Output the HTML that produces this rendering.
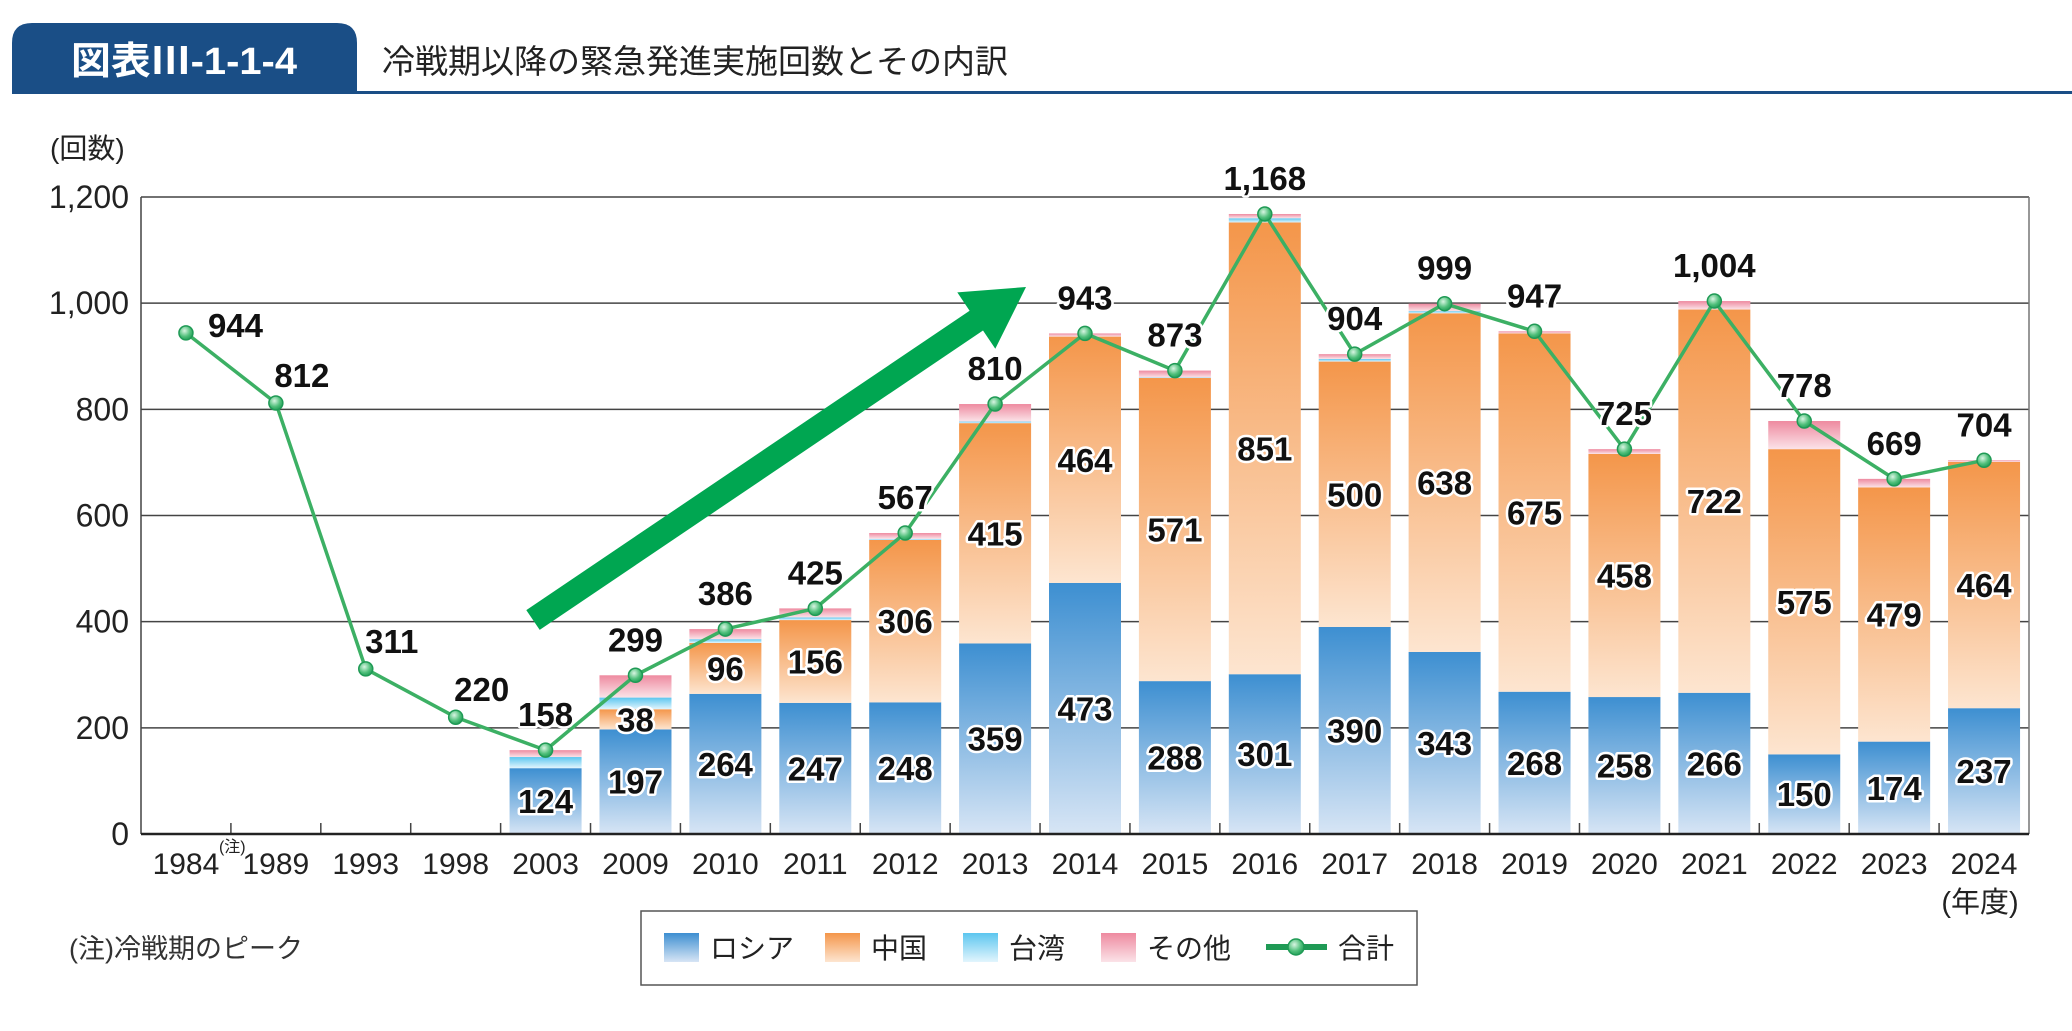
<!DOCTYPE html>
<html><head><meta charset="utf-8">
<style>
html,body{margin:0;padding:0;background:#fff;}
body{width:2072px;height:1026px;overflow:hidden;position:relative;font-family:"Liberation Sans","Noto Sans CJK JP",sans-serif;}
svg text{font-family:"Liberation Sans","Noto Sans CJK JP",sans-serif;}
</style></head><body>
<svg id="chart" width="2072" height="1026" viewBox="0 0 2072 1026" xmlns="http://www.w3.org/2000/svg">
<defs>
<linearGradient id="gR" x1="0" y1="0" x2="0" y2="1"><stop offset="0" stop-color="#3d8fd1"/><stop offset="1" stop-color="#d7e5f5"/></linearGradient>
<linearGradient id="gC" x1="0" y1="0" x2="0" y2="1"><stop offset="0" stop-color="#f4964a"/><stop offset="1" stop-color="#fde5d0"/></linearGradient>
<linearGradient id="gT" x1="0" y1="0" x2="0" y2="1"><stop offset="0" stop-color="#5cc6ef"/><stop offset="1" stop-color="#e2f5fd"/></linearGradient>
<linearGradient id="gO" x1="0" y1="0" x2="0" y2="1"><stop offset="0" stop-color="#ee8aa0"/><stop offset="1" stop-color="#fbe3e8"/></linearGradient>
<radialGradient id="gM" cx="0.4" cy="0.35" r="0.7"><stop offset="0" stop-color="#d8f5e2"/><stop offset="0.6" stop-color="#4fbf7a"/><stop offset="1" stop-color="#1f9a55"/></radialGradient>
</defs>
<path d="M12,93 L12,43 Q12,23 32,23 L337,23 Q357,23 357,43 L357,93 Z" fill="#1a4e86"/>
<rect x="12" y="91" width="2060" height="3" fill="#1a4e86"/>
<text x="184" y="74" text-anchor="middle" font-size="38" font-weight="bold" fill="#fff" textLength="226" lengthAdjust="spacingAndGlyphs">図表Ⅲ-1-1-4</text>
<text x="382" y="73" font-size="33" fill="#222">冷戦期以降の緊急発進実施回数とその内訳</text>
<text x="50" y="158" font-size="28" fill="#222">(回数)</text>
<g id="grid"></g><g id="bars"></g><g id="axes"></g>
<polygon points="539.7,629.9 526.3,610.1 969.6,310.7 957.3,292.4 1026,287 995.3,348.8 983,330.5" fill="#00a651"/>
<g id="line"></g><g id="labels"></g>
<text x="1980" y="912" text-anchor="middle" font-size="29" fill="#222">(年度)</text>
<text x="69" y="958" font-size="27" fill="#333">(注)冷戦期のピーク</text>
<g>
<rect x="641" y="911" width="776" height="74" fill="#fff" stroke="#555" stroke-width="1.5"/>
<rect x="664" y="933" width="35" height="29" fill="url(#gR)"/>
<text x="710" y="958" font-size="28" fill="#222">ロシア</text>
<rect x="825" y="933" width="35" height="29" fill="url(#gC)"/>
<text x="871" y="958" font-size="28" fill="#222">中国</text>
<rect x="963" y="933" width="35" height="29" fill="url(#gT)"/>
<text x="1009" y="958" font-size="28" fill="#222">台湾</text>
<rect x="1101" y="933" width="35" height="29" fill="url(#gO)"/>
<text x="1147" y="958" font-size="28" fill="#222">その他</text>
<line x1="1266" y1="947" x2="1327" y2="947" stroke="#1f9a55" stroke-width="6"/>
<circle cx="1296" cy="947" r="8" fill="url(#gM)" stroke="#1f9a55" stroke-width="1.5"/>
<text x="1338" y="958" font-size="28" fill="#222">合計</text>
</g>
</svg>
<script>
const years = ["1984","1989","1993","1998","2003","2009","2010","2011","2012","2013","2014","2015","2016","2017","2018","2019","2020","2021","2022","2023","2024"];
const russia = [null,null,null,null,124,197,264,247,248,359,473,288,301,390,343,268,258,266,150,174,237];
const china  = [null,null,null,null,0,38,96,156,306,415,464,571,851,500,638,675,458,722,575,479,464];
const taiwan = [null,null,null,null,21,22,7,5,2,3,0,1,8,5,4,0,0,0,0,0,0];
const other  = [null,null,null,null,13,42,19,17,11,33,6,13,8,9,14,4,9,16,53,16,3];
const total  = [944,812,311,220,158,299,386,425,567,810,943,873,1168,904,999,947,725,1004,778,669,704];
const yTicks = [0,200,400,600,800,1000,1200];
const yTickLabels = ["0","200","400","600","800","1,000","1,200"];

const NS="http://www.w3.org/2000/svg";
const X0=141,X1=2029,Y0=834,YTOP=197,MAX=1200;
const slot=(X1-X0)/years.length, bw=72;
const xc=i=>X0+slot*(i+0.5);
const y=v=>Y0-(v/MAX)*(Y0-YTOP);
function mk(tag,attrs,parent){const e=document.createElementNS(NS,tag);for(const k in attrs)e.setAttribute(k,attrs[k]);parent.appendChild(e);return e;}
const fmt=v=>v.toLocaleString('en-US');
const grid=document.getElementById('grid'),bars=document.getElementById('bars'),axes=document.getElementById('axes'),line=document.getElementById('line'),labels=document.getElementById('labels');

yTicks.forEach((t,k)=>{
  if(t>0){const g=mk('line',{x1:X0,x2:X1,y1:y(t),y2:y(t),stroke:'#444','stroke-width':1.5},grid);
  
  }
  const tx=mk('text',{x:129,y:y(t)+11,'text-anchor':'end','font-size':32,fill:'#222'},axes);
  tx.textContent=yTickLabels[k];
  
  
});
const lft=mk('line',{x1:X0,x2:X0,y1:YTOP,y2:Y0,stroke:'#444','stroke-width':1.5},axes);


const rgt=mk('line',{x1:X1,x2:X1,y1:YTOP,y2:Y0,stroke:'#777','stroke-width':1.5},axes);



const series=[[russia,'gR','russia'],[china,'gC','china'],[taiwan,'gT','taiwan'],[other,'gO','other']];
years.forEach((yr,i)=>{
  if(russia[i]!==null){
    let base=0;
    series.forEach(([arr,g,nm])=>{
      const v=arr[i]; if(!v) return;
      const r=mk('rect',{x:xc(i)-bw/2,y:y(base+v),width:bw,height:y(base)-y(base+v),fill:'url(#'+g+')'},bars);
      
      
      if(nm==='russia'||nm==='china'){
        const t=mk('text',{x:xc(i),y:(y(base)+y(base+v))/2+12,'text-anchor':'middle','font-size':33,'font-weight':'bold',fill:'#111',stroke:'#fff','stroke-width':5,'paint-order':'stroke','stroke-linejoin':'round'},labels);
        t.textContent=fmt(v);
        
        
      }
      base+=v;
    });
  }
  const tx=mk('text',{x:xc(i),y:874,'text-anchor':'middle','font-size':30,fill:'#222'},axes);
  tx.textContent=yr;
  
  
  if(i>0){const tk=mk('line',{x1:X0+slot*i,x2:X0+slot*i,y1:Y0-11,y2:Y0,stroke:'#444','stroke-width':1.5},axes);
  
  }
});
const note=mk('text',{x:xc(0)+33,y:852,'font-size':16,fill:'#222'},axes);
note.textContent='(注)';


const xa=mk('line',{x1:X0,x2:X1,y1:Y0,y2:Y0,stroke:'#222','stroke-width':2.5},axes);



const pts=total.map((v,i)=>xc(i)+','+y(v)).join(' ');
const pl=mk('polyline',{points:pts,fill:'none',stroke:'#3cb064','stroke-width':3.5,'stroke-linejoin':'round'},line);


total.forEach((v,i)=>{
  const c=mk('circle',{cx:xc(i),cy:y(v),r:7,fill:'url(#gM)',stroke:'#1f9a55','stroke-width':1.5},line);
  
  
  const early=russia[i]===null;
  const t=mk('text',{x:xc(i)+(early?(i===0?22:26):0),y:y(v)-(early?(i===0?-4:16):24),'text-anchor':early&&i===0?'start':'middle','font-size':33,'font-weight':'bold',fill:'#111',stroke:'#fff','stroke-width':5,'paint-order':'stroke','stroke-linejoin':'round'},labels);
  t.textContent=fmt(v);
  
  
});
</script>
</body></html>
